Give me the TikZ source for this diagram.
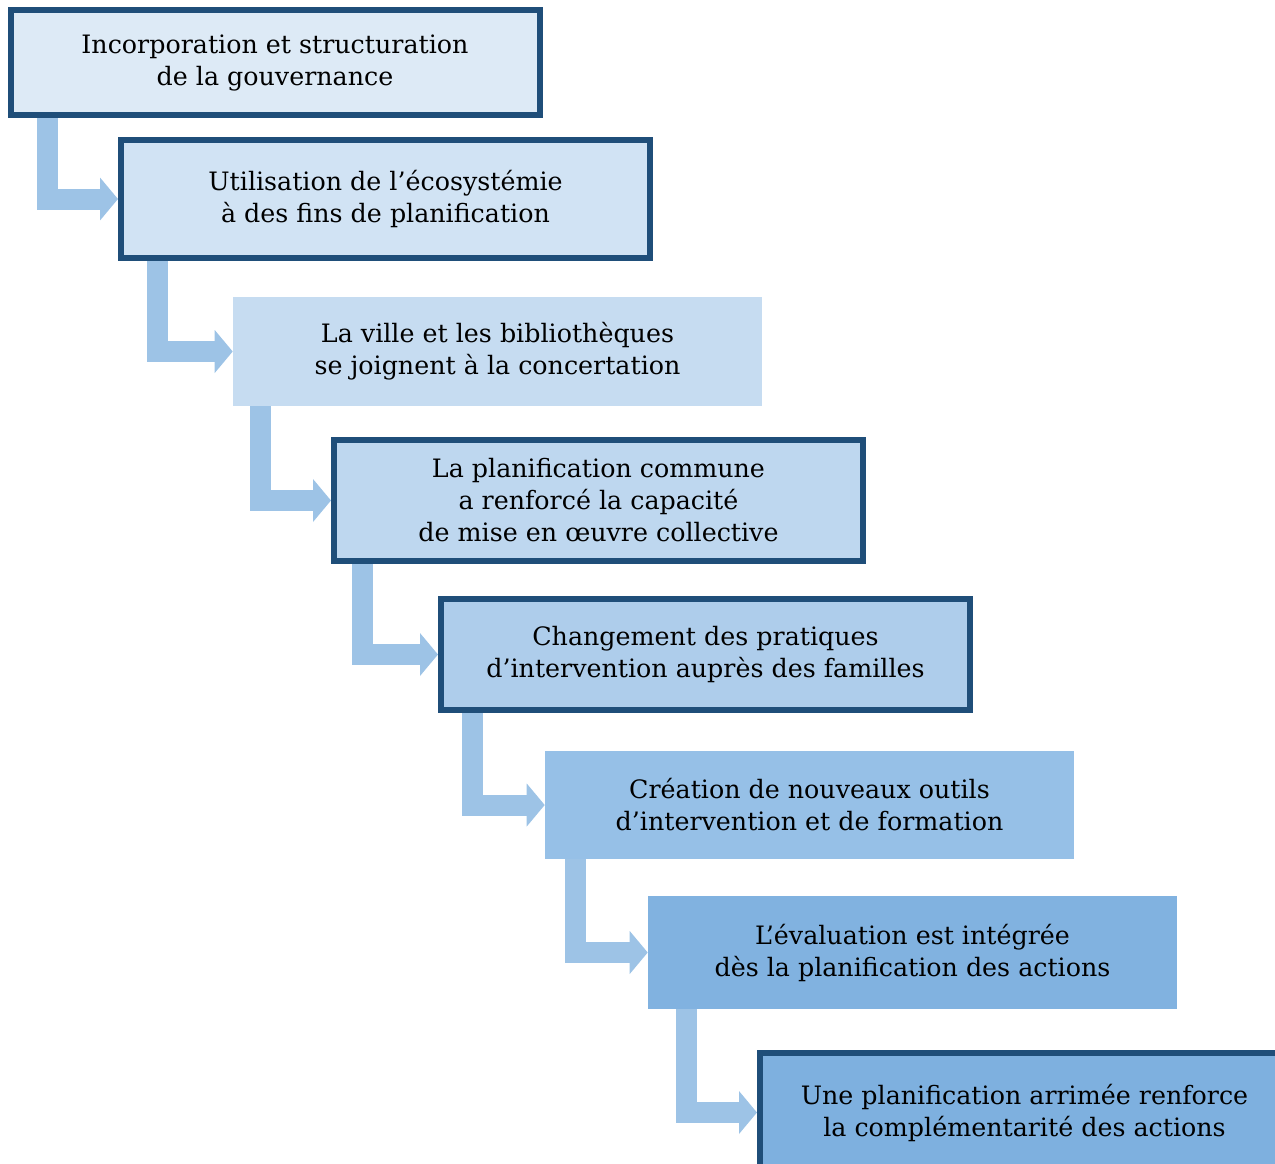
\documentclass[tikz,border=0pt]{standalone}
\usepackage{fontspec}
\setmainfont{DejaVu Serif}
\usetikzlibrary{arrows.meta}
\definecolor{GovBorder}{HTML}{1F4E79}
\definecolor{GovArrow}{HTML}{9DC3E6}
\definecolor{StepA}{HTML}{DDEAF6}
\definecolor{StepB}{HTML}{D1E3F4}
\definecolor{StepC}{HTML}{C6DCF1}
\definecolor{StepD}{HTML}{BED7EF}
\definecolor{StepE}{HTML}{AECDEB}
\definecolor{StepF}{HTML}{96C0E7}
\definecolor{StepG}{HTML}{81B2E0}
\definecolor{StepH}{HTML}{7EB0DF}
\tikzset{
  stepbox/.style={rectangle, align=center, inner sep=0pt, minimum width=396.75pt,
    font=\fontsize{19}{24}\selectfont},
  framed/.style={draw=GovBorder, line width=4.5pt},
  flow/.style={draw=GovArrow, line width=15.75pt, line join=miter,
    -{Triangle[length=13.5pt,width=31.5pt]}}
}
\begin{document}
\begin{tikzpicture}[x=0.75pt,y=-0.75pt]
  \useasboundingbox (0,0) rectangle (1275,1164);
  \clip (0,0) rectangle (1275,1164);

  % steps
  \node[stepbox,framed,fill=StepA,minimum height=78.75pt] (gov) at (275,62.5)
    {Incorporation et structuration\\de la gouvernance};
  \node[stepbox,framed,fill=StepB,minimum height=88.5pt] (eco) at (385.5,199)
    {Utilisation de l’écosystémie\\à des fins de planification};
  \node[stepbox,fill=StepC,minimum height=81.75pt] (ville) at (497.5,351.5)
    {La ville et les bibliothèques\\se joignent à la concertation};
  \node[stepbox,framed,fill=StepD,minimum height=90.75pt] (plan) at (598.5,500.5)
    {La planification commune\\a renforcé la capacité\\de mise en œuvre collective};
  \node[stepbox,framed,fill=StepE,minimum height=83.25pt] (prat) at (705.5,654.5)
    {Changement des pratiques\\d’intervention auprès des familles};
  \node[stepbox,fill=StepF,minimum height=81pt] (outils) at (809.5,805)
    {Création de nouveaux outils\\d’intervention et de formation};
  \node[stepbox,fill=StepG,minimum height=84.75pt] (eval) at (912.5,952.5)
    {L’évaluation est intégrée\\dès la planification des actions};
  \node[stepbox,framed,fill=StepH,minimum height=89.25pt] (arrim) at (1024.5,1112.5)
    {Une planification arrimée renforce\\la complémentarité des actions};

  % connectors
  \begin{scope}[on background layer/.try]
  \foreach \a/\b/\o in {gov/eco/30, eco/ville/29.6, ville/plan/20.6, plan/prat/23.3,
      prat/outils/25.5, outils/eval/23.3, eval/arrim/28.9}
    \draw[flow] ([xshift=\o pt]\a.south west) |- (\b.west);
  \end{scope}
\end{tikzpicture}
\end{document}
